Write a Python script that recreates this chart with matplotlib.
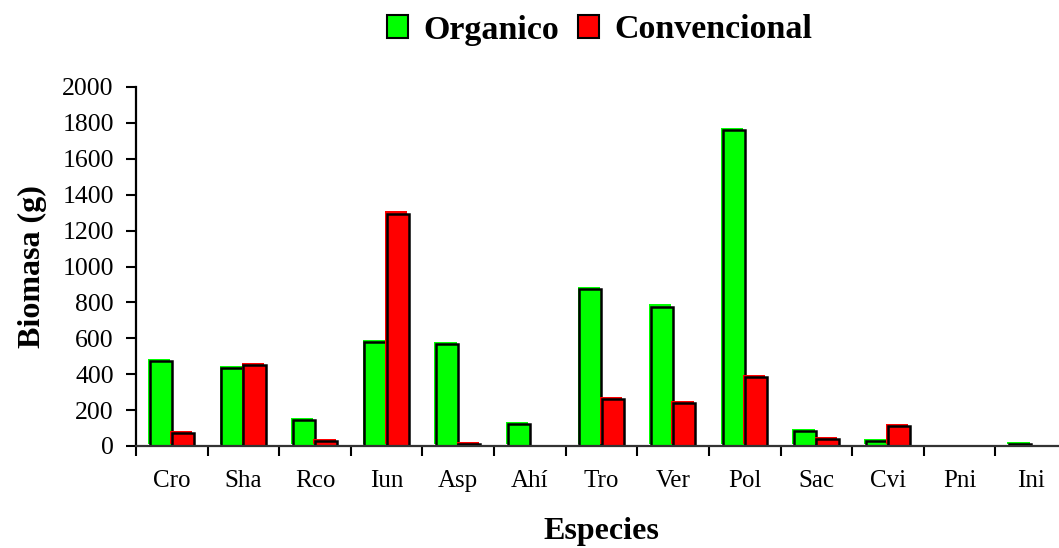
import matplotlib
matplotlib.use("Agg")
from matplotlib import pyplot as plt
import matplotlib.patheffects as pe
import numpy as np

plt.rcParams['font.family'] = ['Liberation Serif', 'DejaVu Serif']

# datos
especies = ["Cro", "Sha", "Rco", "Iun", "Asp", "Ahí", "Tro", "Ver", "Pol", "Sac", "Cvi", "Pni", "Ini"]
organico = [472, 436, 145, 577, 566, 121, 872, 777, 1762, 85, 28, 0, 12]
convencional = [72, 450, 30, 1295, 12, 0, 263, 241, 382, 40, 110, 0, 0]

verde = "#00ff00"
rojo = "#ff0000"

fig = plt.figure(figsize=(10.59, 5.48), dpi=100)
ax = fig.add_axes([136 / 1059, 102 / 548, 931 / 1059, 359 / 548])

x = np.arange(len(especies))
w = 0.31


def barras(xs, vals, color, label):
    bars = ax.bar(xs, vals, w, color=color, edgecolor="black", linewidth=1.8, label=label)
    for b, v in zip(bars, vals):
        if v <= 0:
            b.set_visible(False)
            continue
        b.set_path_effects([
            pe.SimplePatchShadow(offset=(-1.2, 1.5), shadow_rgbFace=color, alpha=1),
            pe.Normal(),
        ])
    return bars


barras(x - w / 2, organico, verde, "Organico")
barras(x + w / 2, convencional, rojo, "Convencional")

ax.set_xlim(-0.5, len(especies) - 0.5)
ax.set_ylim(0, 2000)
ax.set_yticks(np.arange(0, 2001, 200))
ax.set_xticks(x)
ax.set_xticklabels(especies)
ax.set_xticks(np.arange(-0.5, len(especies), 1), minor=True)

for s in ["top", "right"]:
    ax.spines[s].set_visible(False)
ax.spines["left"].set_linewidth(1.6)
ax.spines["bottom"].set_linewidth(1.6)
ax.spines["bottom"].set_color("#333333")

ax.tick_params(axis="y", direction="out", length=7, width=1.5, pad=9, labelsize=18.5)
ax.tick_params(axis="x", which="major", length=0, pad=17, labelsize=18)
ax.tick_params(axis="x", which="minor", direction="out", length=7, width=1.5)

ax.set_ylabel("Biomasa (g)", fontsize=23, fontweight="bold", labelpad=11)
ax.set_xlabel("Especies", fontsize=23, fontweight="bold", labelpad=18)

h, l = ax.get_legend_handles_labels()
leg = fig.legend(h, l, loc="center", bbox_to_anchor=(600 / 1059, 1 - 30 / 548), ncol=2,
                 frameon=False, prop={"size": 24.5, "weight": "bold"},
                 handlelength=0.62, handleheight=0.62, handletextpad=0.45, columnspacing=0.55)
for p in leg.get_patches():
    p.set_path_effects([])
    p.set_linewidth(1.5)

fig.savefig("out.png", dpi=100)
